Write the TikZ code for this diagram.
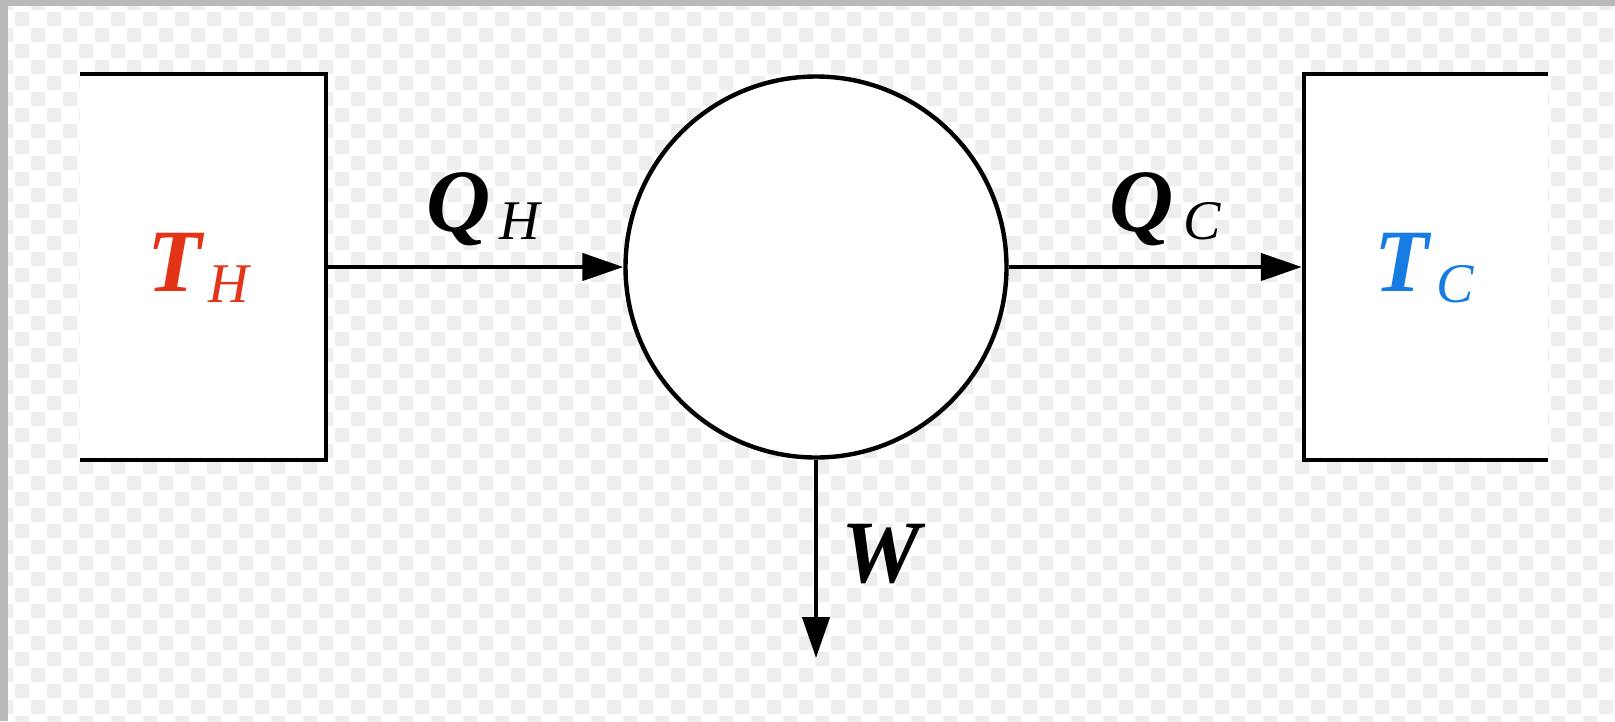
\documentclass[tikz,border=0pt]{standalone}
\usepackage{fontspec}
\setmainfont{Liberation Serif}
\usetikzlibrary{arrows.meta}
\definecolor{hotred}{RGB}{228,52,24}
\definecolor{coldblue}{RGB}{22,124,226}
\definecolor{framegray}{RGB}{185,185,185}
\definecolor{checker}{RGB}{238,238,238}
\tikzset{
  edge/.style={line width=4.4pt, draw=black, line join=miter},
  flow/.style={edge, -{Triangle[length=41pt,width=27pt]}},
  reservoir/.style={rectangle, fill=white, inner sep=0, outer sep=2.2pt},
  big/.style={inner sep=0, anchor=base west, font=\fontsize{89}{89}\selectfont\bfseries\itshape},
  small/.style={inner sep=0, anchor=base west, font=\fontsize{56}{56}\selectfont\itshape},
}
\begin{document}
\begin{tikzpicture}[x=1pt,y=-1pt]
\useasboundingbox (0,0) rectangle (1615,721);
\fill[white] (0,0) rectangle (1615,721);
\begin{scope}
  \clip (8,6) rectangle (1615,721);
  \foreach \y in {-20,12,...,721} {
    \foreach \x in {-17,15,...,1615} {
      \fill[checker, rounded corners=2pt] (\x,\y) rectangle +(14,14);
      \fill[checker, rounded corners=2pt] (\x+16,\y+16) rectangle +(14,14);
    }
  }
\end{scope}
\fill[framegray] (0,0) rectangle (1615,6);
\fill[framegray] (0,0) rectangle (8,721);

% reservoirs
\node[reservoir, minimum width=246pt, minimum height=386pt] (hot) at (203,267) {};
\node[reservoir, minimum width=244pt, minimum height=386pt] (cold) at (1426,267) {};
\draw[edge] ([shift={(2.2,2.2)}]hot.north west) -- ([shift={(-2.2,2.2)}]hot.north east)
            -- ([shift={(-2.2,-2.2)}]hot.south east) -- ([shift={(2.2,-2.2)}]hot.south west);
\draw[edge] ([shift={(-2.2,2.2)}]cold.north east) -- ([shift={(2.2,2.2)}]cold.north west)
            -- ([shift={(2.2,-2.2)}]cold.south west) -- ([shift={(-2.2,-2.2)}]cold.south east);

% engine
\node[circle, draw, line width=4.4pt, fill=white, minimum size=381pt, inner sep=0] (engine) at (816,267) {};
\coordinate (wend) at (816,658);

% flows
\draw[flow] (hot.east) -- (engine.west);
\draw[flow] (engine.east) -- (cold.west);
\draw[flow] (engine.south) -- (wend);

% labels
\node[big, text=hotred] (TH) at (147,291) {T};
\node[small, text=hotred] (THs) at (208,302) {H};
\node[big, text=coldblue] (TC) at (1374,291) {T};
\node[small, text=coldblue] (TCs) at (1436,302) {C};
\node[big] (QH) at (426,231) {Q};
\node[small] (QHs) at (499,239) {H};
\node[big] (QC) at (1109,231) {Q};
\node[small] (QCs) at (1183,239) {C};
\node[big] (W) at (841,582) {W};
\end{tikzpicture}
\end{document}
